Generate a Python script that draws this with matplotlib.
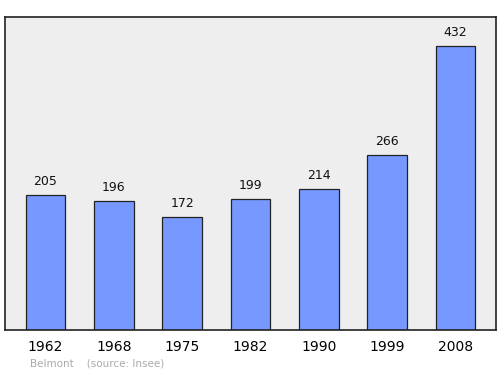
import matplotlib
matplotlib.use("Agg")
import matplotlib.pyplot as plt

# data
years = ["1962", "1968", "1975", "1982", "1990", "1999", "2008"]
population = [205, 196, 172, 199, 214, 266, 432]

fig = plt.figure(figsize=(5, 3.74), dpi=100)
ax = fig.add_axes([0.01, 0.1176, 0.982, 0.837])
ax.set_facecolor("#eeeeee")

pos = list(range(len(years)))
ax.bar(pos, population, width=0.58, color="#7799ff", edgecolor="#222222", linewidth=0.9)

for x, v in zip(pos, population):
    ax.text(x, v + 11, str(v), ha="center", va="bottom", fontsize=9, color="#111111")

ax.set_xlim(-0.593, 6.593)
ax.set_ylim(0, 476)
ax.set_xticks(pos)
ax.set_xticklabels(years, fontsize=10)
ax.tick_params(axis="x", length=0, pad=7.5)
ax.set_yticks([])
for s in ax.spines.values():
    s.set_linewidth(1.2)
    s.set_color("#222222")

fig.text(0.06, 0.014, "Belmont    (source: Insee)", fontsize=7.5, color="#aaaaaa", ha="left", va="bottom")

fig.savefig("out.png", dpi=100)
